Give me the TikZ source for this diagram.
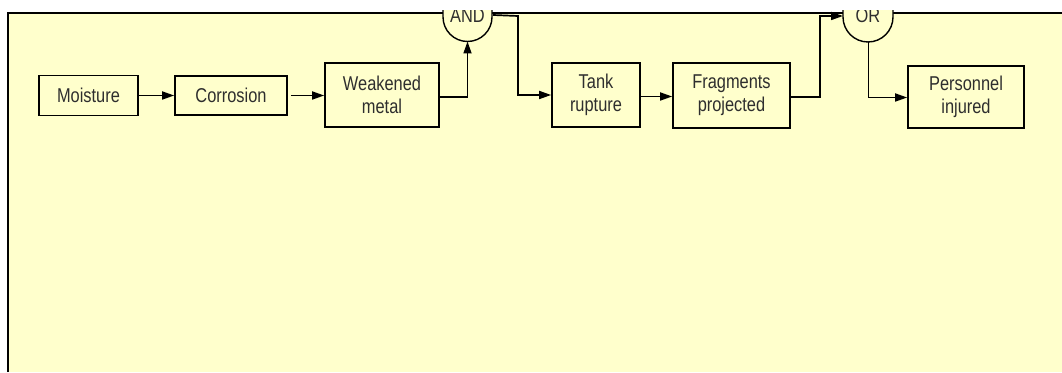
\documentclass[tikz,border=0pt]{standalone}
\usepackage{fontspec}
\setmainfont{Liberation Sans}[FakeStretch=0.82]
\usetikzlibrary{arrows.meta}
\definecolor{panel}{HTML}{FFFFCC}
\definecolor{txt}{HTML}{2E2E2E}
\tikzset{
  box/.style={draw=black, line width=1.7pt, fill=panel, inner sep=0pt, align=center,
    text=txt, font=\fontsize{20}{23.3}\selectfont},
  conn/.style={draw=black, line width=1.7pt},
  arr/.style={conn, -{Triangle[length=12pt,width=8pt]}},
  gate/.style={draw=black, line width=1.4pt, fill=panel},
  gatetext/.style={text=txt, font=\fontsize{20}{23.3}\selectfont, inner sep=0pt, anchor=base},
}
\begin{document}
\begin{tikzpicture}[x=1pt,y=1pt]
\useasboundingbox (0,0) rectangle (1062,372);
% panel
\fill[panel] (7.5,0) rectangle (1062,359);
\draw[line width=2pt] (7.5,0) -- (7.5,359) -- (1062,359);
% boxes
\node[box, minimum width=99pt, minimum height=40pt] (moist) at (88.5,276.5) {Moisture};
\node[box, minimum width=112pt, minimum height=39pt] (corr) at (231,276.5) {Corrosion};
\node[box, minimum width=114pt, minimum height=64pt] (weak) at (382,277) {Weakened\\metal};
\node[box, minimum width=88pt, minimum height=64pt] (tank) at (596,277) {Tank\\rupture};
\node[box, minimum width=117pt, minimum height=65pt] (frag) at (731.5,276.5) {Fragments\\projected};
\node[box, minimum width=116pt, minimum height=62pt] (pers) at (966,275) {Personnel\\injured};
% gates
\begin{scope}
\clip (0,0) rectangle (1062,361);
\path[gate] (443,362) -- (443,355) arc[start angle=180, end angle=360, radius=24.5] -- (492,362);
\node[gatetext] (and) at (467.5,349) {AND};
\path[gate] (843,362) -- (843,355) arc[start angle=180, end angle=360, radius=25] -- (893,362);
\node[gatetext] (or) at (868,349) {OR};
\end{scope}
\coordinate (andb) at (467.5,330.5);
\coordinate (andr) at (493,357);
\coordinate (orl) at (843,356);
\coordinate (orb) at (868.5,330);
% connectors
\draw[arr] (moist.east) -- (corr.west);
\draw[arr] ([xshift=3pt]corr.east) -- (corr.east -| weak.west);
\draw[arr] ([yshift=-2pt]weak.east) -| (andb);
\draw[arr] (andr) -- ++(25,-1) |- (tank.west);
\draw[arr] ([yshift=-1.5pt]tank.east) -- ([yshift=-1.5pt]tank.east -| frag.west);
\draw[arr] ([yshift=-1.5pt]frag.east) -- ++(29,0) |- (orl);
\draw[arr] (orb) |- ([yshift=-0.5pt]pers.west);
\end{tikzpicture}
\end{document}
